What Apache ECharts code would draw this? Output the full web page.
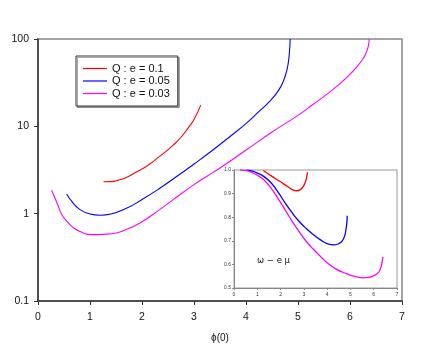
<!DOCTYPE html>
<html>
<head>
<meta charset="utf-8">
<script src="https://cdn.jsdelivr.net/npm/echarts@6/dist/echarts.min.js"></script>
<style>
  html, body { margin: 0; padding: 0; background: #fff; }
  #chart { width: 436px; height: 349px; }
</style>
</head>
<body>
<div id="chart"></div>
<script>
var names = ['Q : e = 0.1', 'Q : e = 0.05', 'Q : e = 0.03'];
var colors = ['#ff0000', '#0000ff', '#ff00ff'];

// main plot: phi(0) vs value (log scale)
var redPhi = [1.26, 1.4, 1.55, 1.7, 1.85, 2.0, 2.15, 2.3, 2.45, 2.6, 2.75, 2.9, 3.0, 3.13];
var redVal = [2.32, 2.33, 2.42, 2.6, 2.9, 3.25, 3.7, 4.35, 5.1, 6.1, 7.5, 9.8, 12.0, 17.5];

var bluePhi = [0.55, 0.65, 0.8, 1.0, 1.2, 1.4, 1.7, 2.0, 2.35, 2.7, 3.0, 3.37, 3.7, 4.01, 4.25, 4.46, 4.62, 4.72, 4.79, 4.83, 4.85];
var blueVal = [1.68, 1.38, 1.12, 0.99, 0.96, 0.99, 1.15, 1.45, 1.97, 2.75, 3.7, 5.4, 7.7, 10.9, 14.8, 19.5, 25.5, 33, 45, 65, 100];

var magPhi = [0.26, 0.36, 0.46, 0.57, 0.68, 0.85, 1.0, 1.25, 1.51, 1.75, 1.96, 2.3, 2.6, 3.0, 3.24, 3.5, 4.01, 4.5, 4.97, 5.3, 5.62, 5.85, 6.0, 6.12, 6.22, 6.3, 6.35, 6.37];
var magVal = [1.85, 1.35, 0.97, 0.8, 0.69, 0.61, 0.575, 0.58, 0.6, 0.68, 0.78, 1.07, 1.45, 2.15, 2.67, 3.33, 5.4, 8.6, 13, 18, 25, 32.5, 39.5, 47, 56, 67, 82, 100];

// inset: omega - e mu
var redInPhi = [1.26, 1.6, 2.0, 2.3, 2.55, 2.7, 2.85, 2.97, 3.07, 3.13, 3.16];
var redInVal = [0.998, 0.975, 0.95, 0.93, 0.915, 0.912, 0.917, 0.93, 0.95, 0.975, 0.99];

var blueInPhi = [0.55, 0.8, 1.0, 1.29, 1.6, 1.9, 2.2, 2.5, 2.8, 3.1, 3.4, 3.7, 4.03, 4.3, 4.5, 4.65, 4.75, 4.81, 4.85, 4.86];
var blueInVal = [1.0, 0.995, 0.987, 0.972, 0.945, 0.905, 0.86, 0.818, 0.782, 0.752, 0.727, 0.705, 0.687, 0.683, 0.688, 0.7, 0.72, 0.75, 0.78, 0.806];

var magInPhi = [0.26, 0.5, 0.71, 1.0, 1.29, 1.6, 1.9, 2.2, 2.5, 2.8, 3.1, 3.4, 3.7, 4.0, 4.39, 4.86, 5.2, 5.54, 5.8, 6.0, 6.2, 6.29, 6.35, 6.39];
var magInVal = [1.0, 0.998, 0.992, 0.978, 0.958, 0.922, 0.878, 0.83, 0.782, 0.738, 0.698, 0.665, 0.635, 0.607, 0.58, 0.56, 0.549, 0.543, 0.545, 0.552, 0.565, 0.582, 0.605, 0.632];

var xTicks = [0, 1, 2, 3, 4, 5, 6, 7];

function pairs(xs, ys) {
    var out = [];
    for (var i = 0; i < xs.length; i++) out.push([xs[i], ys[i]]);
    return out;
}

function line(name, color, data, idx, width) {
    return {
        name: name,
        type: 'line',
        xAxisIndex: idx,
        yAxisIndex: idx,
        data: data,
        smooth: 0.5,
        symbol: 'none',
        lineStyle: { color: color, width: width },
        itemStyle: { color: color },
        animation: false
    };
}

var chart = echarts.init(document.getElementById('chart'));

var option = {
    backgroundColor: '#fff',
    animation: false,
    textStyle: { fontFamily: 'Liberation Sans, Arial, sans-serif' },
    legend: {
        data: names,
        orient: 'vertical',
        left: 76,
        top: 56,
        icon: 'rect',
        itemWidth: 24,
        itemHeight: 1.2,
        itemGap: 1.5,
        padding: [7, 8, 7, 7],
        borderColor: '#333',
        borderWidth: 1,
        shadowColor: 'rgba(0,0,0,0.35)',
        shadowOffsetX: 1.5,
        shadowOffsetY: 1.5,
        backgroundColor: '#fff',
        selectedMode: false,
        textStyle: { fontSize: 11, color: '#111', lineHeight: 11 }
    },
    grid: [
        { left: 38, top: 39, width: 364, height: 262, show: true, borderColor: '#888', borderWidth: 1.5, backgroundColor: 'transparent' },
        { left: 234, top: 170, width: 163, height: 118, show: true, borderColor: '#999', borderWidth: 1, backgroundColor: '#fff' }
    ],
    xAxis: [
        {
            type: 'value', gridIndex: 0, min: 0, max: 7, interval: 1,
            name: 'ϕ(0)', nameLocation: 'middle', nameGap: 32,
            nameTextStyle: { fontSize: 10, color: '#111' },
            axisLine: { show: true, lineStyle: { color: '#333', width: 1.5 } },
            axisTick: { show: true, length: 4, lineStyle: { color: '#333' } },
            axisLabel: { fontSize: 10.5, color: '#111', margin: 11,
                formatter: function (v) { return xTicks.indexOf(v) >= 0 ? String(v) : ''; } },
            splitLine: { show: false }
        },
        {
            type: 'value', gridIndex: 1, min: 0, max: 7, interval: 1,
            axisLine: { show: true, lineStyle: { color: '#888', width: 1 } },
            axisTick: { show: true, length: 2, lineStyle: { color: '#888' } },
            axisLabel: { fontSize: 5, color: '#333', margin: 4 },
            splitLine: { show: false }
        }
    ],
    yAxis: [
        {
            type: 'log', gridIndex: 0, logBase: 10, min: 0.1, max: 100,
            axisLine: { show: true, lineStyle: { color: '#333', width: 1.5 } },
            axisTick: { show: true, length: 4, lineStyle: { color: '#333' } },
            axisLabel: { fontSize: 10.5, color: '#111', margin: 9,
                formatter: function (v) { return v < 1 ? v.toFixed(1) : String(Math.round(v)); } },
            splitLine: { show: false },
            minorTick: { show: false }
        },
        {
            type: 'value', gridIndex: 1, min: 0.5, max: 1.0, interval: 0.1,
            axisLine: { show: true, lineStyle: { color: '#888', width: 1 } },
            axisTick: { show: true, length: 2, lineStyle: { color: '#888' } },
            axisLabel: { fontSize: 5, color: '#333', margin: 3,
                formatter: function (v) { return v.toFixed(1); } },
            splitLine: { show: false }
        }
    ],
    graphic: [
        {
            type: 'text', left: 257, top: 256,
            style: { text: 'ω − e μ', fontSize: 8.5, fill: '#111', fontFamily: 'DejaVu Sans' }
        }
    ],
    series: [
        line(names[0], colors[0], pairs(redPhi, redVal), 0, 1.1),
        line(names[1], colors[1], pairs(bluePhi, blueVal), 0, 1.1),
        line(names[2], colors[2], pairs(magPhi, magVal), 0, 1.1),
        line(names[0], colors[0], pairs(redInPhi, redInVal), 1, 1.3),
        line(names[1], colors[1], pairs(blueInPhi, blueInVal), 1, 1.3),
        line(names[2], colors[2], pairs(magInPhi, magInVal), 1, 1.3)
    ]
};

chart.setOption(option);
</script>
</body>
</html>
